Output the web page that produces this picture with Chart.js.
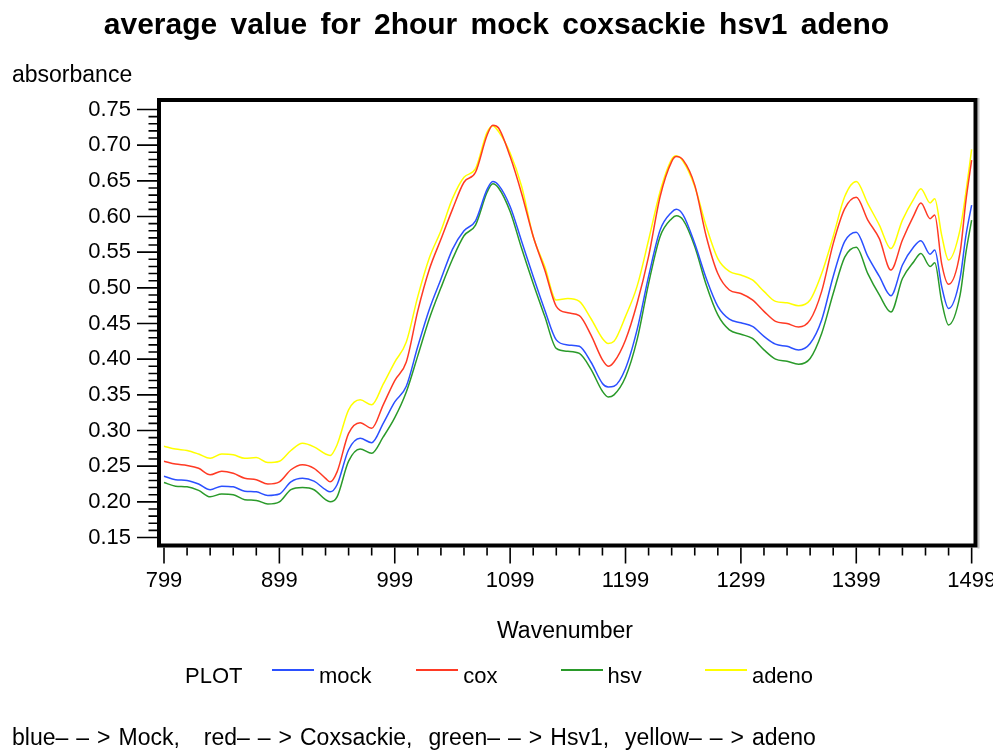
<!DOCTYPE html>
<html>
<head>
<meta charset="utf-8">
<title>average value for 2hour mock coxsackie hsv1 adeno</title>
<script src="https://cdn.jsdelivr.net/npm/chart.js@4.4.1/dist/chart.umd.min.js"></script>
<style>
  html, body { margin: 0; padding: 0; background: #fff; }
  #wrap { position: relative; width: 993px; height: 751px; overflow: hidden;
          font-family: "Liberation Sans", Arial, Helvetica, sans-serif; color: #000; }
  #chart { position: absolute; left: 0; top: 0; }
  .txt { position: absolute; white-space: pre; font-size: 22px; line-height: 22px; }
  #title { left: 0; width: 993px; text-align: center; top: 9px;
           font-size: 30px; line-height: 30px; font-weight: bold; word-spacing: 5px; }
  .key { position: absolute; top: 669px; height: 2px; width: 42px; }
</style>
</head>
<body>
<div id="wrap">
  <canvas id="chart" width="993" height="751"></canvas>
  <div id="title" class="txt">average value for 2hour mock coxsackie hsv1 adeno</div>
  <div class="txt" style="left:12px;top:63px;font-size:23px;line-height:23px">absorbance</div>
  <div class="txt" style="left:497px;top:619px;font-size:23px;line-height:23px">Wavenumber</div>
  <div class="txt" style="left:185px;top:665px">PLOT</div>
  <div id="legend"></div>
  <div class="txt" style="left:12px;top:726px;font-size:23px;line-height:23px;word-spacing:1.6px">blue– – > Mock,   red– – > Coxsackie,  green– – > Hsv1,  yellow– – > adeno</div>
</div>

<script>
// Wavenumber grid (cm-1) and averaged absorbance for each group
const wavenumber = [
  799, 809, 819, 829, 839, 849, 859, 869, 879, 889,
  899, 909, 919, 929, 939, 943, 949, 959, 969, 979,
  989, 999, 1009, 1019, 1029, 1039, 1049, 1059, 1069, 1079,
  1084, 1089, 1099, 1109, 1119, 1129, 1139, 1149, 1159, 1169,
  1179, 1184, 1189, 1199, 1209, 1219, 1229, 1239, 1243, 1249,
  1259, 1269, 1279, 1289, 1299, 1309, 1319, 1329, 1339, 1349,
  1359, 1369, 1379, 1389, 1399, 1409, 1419, 1429, 1439, 1449,
  1455, 1463, 1467, 1473, 1479, 1489, 1494, 1499
];

const mock = [
  .236, .231, .230, .225, .217, .222, .221, .215, .214, .209,
  .211, .228, .233, .229, .217, .214, .224, .273, .289, .283,
  .310, .340, .362, .418, .470, .512, .554, .580, .594, .638,
  .649, .644, .614, .565, .516, .469, .427, .420, .418, .396,
  .366, .361, .362, .387, .441, .516, .581, .606, .610, .602,
  .562, .513, .474, .456, .451, .446, .432, .421, .418, .413,
  .422, .455, .516, .565, .578, .544, .516, .489, .532, .558,
  .566, .547, .553, .502, .471, .514, .573, .616
];

const cox = [
  .257, .253, .251, .247, .238, .243, .240, .233, .231, .225,
  .228, .245, .252, .247, .233, .228, .242, .296, .311, .303,
  .336, .370, .396, .468, .526, .568, .610, .648, .662, .714,
  .728, .724, .684, .632, .572, .525, .474, .465, .461, .434,
  .399, .390, .396, .427, .478, .544, .628, .677, .684, .679,
  .644, .572, .520, .497, .492, .483, .467, .453, .450, .445,
  .455, .495, .562, .611, .627, .595, .569, .525, .567, .602,
  .619, .597, .602, .534, .505, .550, .622, .679
];

const hsv = [
  .227, .222, .221, .216, .207, .211, .210, .203, .202, .197,
  .200, .217, .220, .217, .203, .200, .207, .257, .274, .268,
  .291, .318, .354, .405, .457, .500, .540, .573, .588, .634,
  .646, .640, .607, .555, .506, .460, .415, .411, .408, .386,
  .355, .347, .350, .375, .427, .506, .572, .597, .601, .595,
  .558, .504, .462, .441, .435, .429, .413, .400, .397, .393,
  .401, .436, .492, .543, .557, .520, .490, .466, .513, .537,
  .548, .530, .535, .481, .448, .490, .549, .595
];

const adeno = [
  .278, .274, .272, .267, .261, .267, .266, .261, .262, .255,
  .257, .272, .282, .277, .267, .265, .280, .329, .343, .336,
  .365, .396, .424, .488, .542, .580, .625, .655, .667, .718,
  .727, .719, .689, .642, .572, .530, .483, .485, .481, .457,
  .429, .422, .425, .460, .502, .567, .635, .680, .685, .677,
  .642, .586, .541, .523, .518, .511, .495, .481, .479, .475,
  .483, .520, .572, .628, .649, .618, .588, .555, .595, .625,
  .639, .619, .625, .574, .539, .582, .634, .694
];

const xTicks = [799, 899, 999, 1099, 1199, 1299, 1399, 1499];
const yTicks = [0.15, 0.20, 0.25, 0.30, 0.35, 0.40, 0.45, 0.50, 0.55, 0.60, 0.65, 0.70, 0.75];

const series = [
  { label: "mock",  values: mock,  color: "#2b50ff" },
  { label: "cox",   values: cox,   color: "#ff3a24" },
  { label: "hsv",   values: hsv,   color: "#2a9a2a" },
  { label: "adeno", values: adeno, color: "#ffff00" }
];

// Legend row under the axis title
const legend = document.getElementById("legend");
series.forEach((s, i) => {
  const left = 272 + i * 144.3;
  const key = document.createElement("div");
  key.className = "key";
  key.style.left = left + "px";
  key.style.background = s.color;
  legend.appendChild(key);
  const name = document.createElement("div");
  name.className = "txt";
  name.style.left = (left + 47) + "px";
  name.style.top = "665px";
  name.textContent = s.label;
  legend.appendChild(name);
});

// Heavy frame plus major/minor tick marks outside the plot area
const frameTicks = {
  id: "frameTicks",
  afterDraw(chart) {
    const { ctx, chartArea: a, scales: { x, y } } = chart;
    ctx.save();
    ctx.fillStyle = "#c4c4c4";
    ctx.fillRect(a.right + 4, a.top - 4, 2, a.bottom - a.top + 9);

    ctx.strokeStyle = "#000";
    ctx.lineWidth = 4;
    ctx.strokeRect(a.left - 2, a.top - 2, a.right - a.left + 4, a.bottom - a.top + 4);

    ctx.lineWidth = 1.6;
    ctx.beginPath();
    for (let k = 15; k <= 75; k++) {
      const py = y.getPixelForValue(k / 100);
      const len = k % 5 === 0 ? 20 : 8.5;
      ctx.moveTo(a.left - 4, py);
      ctx.lineTo(a.left - 4 - len, py);
    }
    for (let w = xTicks[0]; w <= xTicks[xTicks.length - 1]; w += 20) {
      const px = x.getPixelForValue(w);
      const len = (w - xTicks[0]) % 100 === 0 ? 16 : 8;
      ctx.moveTo(px, a.bottom + 4);
      ctx.lineTo(px, a.bottom + 4 + len);
    }
    ctx.stroke();
    ctx.restore();
  }
};

Chart.defaults.font.family = '"Liberation Sans", Arial, Helvetica, sans-serif';
Chart.defaults.color = "#000";

new Chart(document.getElementById("chart"), {
  type: "line",
  data: {
    datasets: series.map(s => ({
      label: s.label,
      data: wavenumber.map((w, i) => ({ x: w, y: s.values[i] })),
      borderColor: s.color,
      borderWidth: 1.5,
      pointRadius: 0,
      fill: false,
      cubicInterpolationMode: "monotone"
    }))
  },
  options: {
    responsive: false,
    devicePixelRatio: 1,
    animation: false,
    layout: { padding: { left: 0, top: 102, right: 19.5, bottom: 0 } },
    plugins: { legend: { display: false }, tooltip: { enabled: false } },
    scales: {
      x: {
        type: "linear",
        min: 796.4,
        max: 1500.6,
        grid: { display: false, drawTicks: false },
        border: { display: false },
        afterBuildTicks: scale => { scale.ticks = xTicks.map(v => ({ value: v })); },
        afterFit: scale => {
          scale.height = 207.5;
          scale.paddingLeft = 0;
          scale.paddingRight = 0;
        },
        ticks: { autoSkip: false, maxRotation: 0, padding: 24, font: { size: 22 }, callback: v => String(v) }
      },
      y: {
        min: 0.1416,
        max: 0.7605,
        grid: { display: false, drawTicks: false },
        border: { display: false },
        afterBuildTicks: scale => { scale.ticks = yTicks.map(v => ({ value: v })); },
        afterFit: scale => {
          scale.width = 161;
          scale.paddingTop = 0;
          scale.paddingBottom = 0;
        },
        ticks: { autoSkip: false, padding: 30, font: { size: 22 }, callback: v => Number(v).toFixed(2) }
      }
    }
  },
  plugins: [frameTicks]
});
</script>
</body>
</html>
